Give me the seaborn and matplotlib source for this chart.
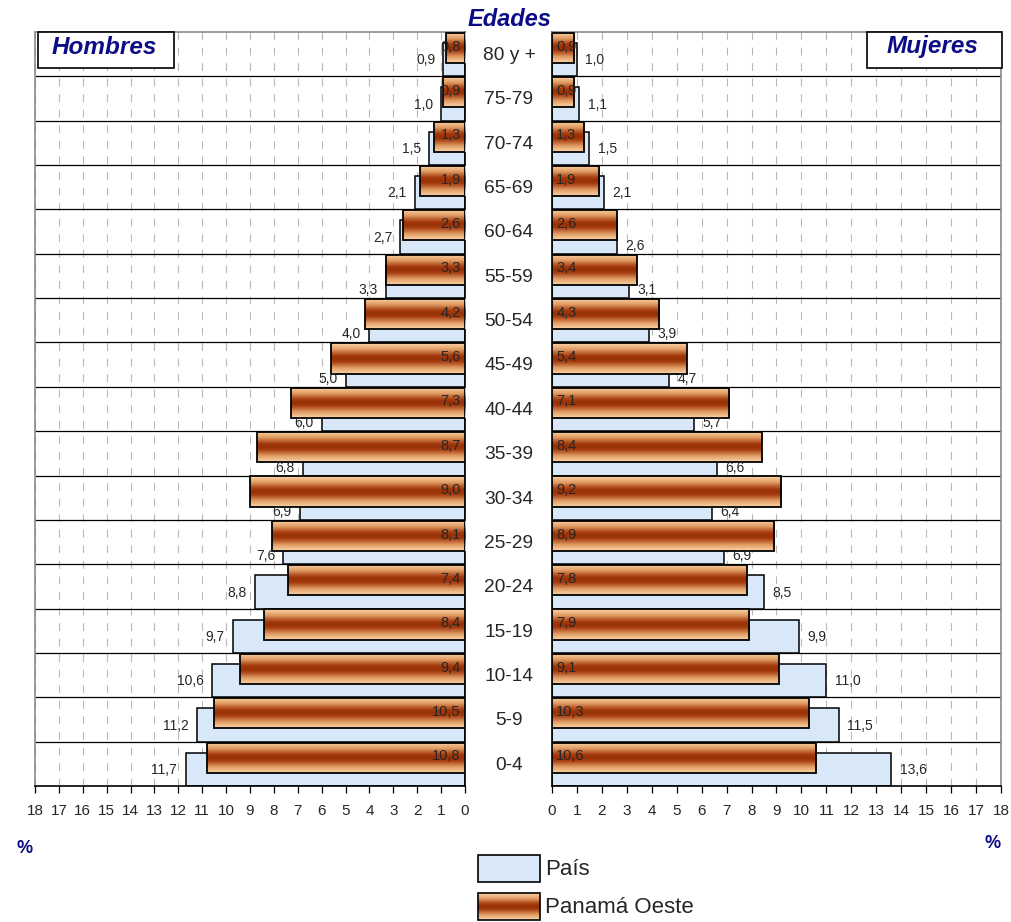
import numpy as np
import pandas as pd
import seaborn as sns
import matplotlib.pyplot as plt
from matplotlib.colors import LinearSegmentedColormap
from matplotlib.patches import Rectangle
import matplotlib.transforms as mtransforms

edades = ['0-4', '5-9', '10-14', '15-19', '20-24', '25-29', '30-34', '35-39',
          '40-44', '45-49', '50-54', '55-59', '60-64', '65-69', '70-74', '75-79', '80 y +']
hombres_pais = [11.7, 11.2, 10.6, 9.7, 8.8, 7.6, 6.9, 6.8, 6.0, 5.0, 4.0, 3.3, 2.7, 2.1, 1.5, 1.0, 0.9]
hombres_oeste = [10.8, 10.5, 9.4, 8.4, 7.4, 8.1, 9.0, 8.7, 7.3, 5.6, 4.2, 3.3, 2.6, 1.9, 1.3, 0.9, 0.8]
mujeres_pais = [13.6, 11.5, 11.0, 9.9, 8.5, 6.9, 6.4, 6.6, 5.7, 4.7, 3.9, 3.1, 2.6, 2.1, 1.5, 1.1, 1.0]
mujeres_oeste = [10.6, 10.3, 9.1, 7.9, 7.8, 8.9, 9.2, 8.4, 7.1, 5.4, 4.3, 3.4, 2.6, 1.9, 1.3, 0.9, 0.9]
series = ['País', 'Panamá Oeste']

sns.set_style('white')
plt.rcParams['font.family'] = ['Liberation Sans', 'DejaVu Sans']

W, H = 1012, 922
navy = '#0c0c86'
azul = '#d9e8f8'
cobre = LinearSegmentedColormap.from_list(
    'cobre', [(0, '#fcd4a8'), (0.2, '#e09a62'), (0.4, '#a53c0e'), (0.5, '#963006'),
              (0.6, '#a53c0e'), (0.8, '#e09a62'), (1, '#fcd4a8')])
grad = np.linspace(0, 1, 64).reshape(-1, 1)

orden = edades[::-1]
n = len(orden)


def fx(px):
    return px / W


def fy(py):
    return 1 - py / H


def fmt(v):
    return f'{v:.1f}'.replace('.', ',')


fig = plt.figure(figsize=(W / 100, H / 100), dpi=100)
axL = fig.add_axes([fx(35), fy(786), 430 / W, 754 / H])
axR = fig.add_axes([fx(552), fy(786), 449 / W, 754 / H])


def piramide(ax, pais, oeste, lado):
    df_p = pd.DataFrame({'edad': edades, 'valor': pais})
    df_o = pd.DataFrame({'edad': edades, 'valor': oeste})

    n0 = len(ax.patches)
    sns.barplot(data=df_p, x='valor', y='edad', order=orden, orient='h', ax=ax,
                color=azul, edgecolor='black', linewidth=1.1, errorbar=None,
                saturation=1, zorder=2)
    for p in ax.patches[n0:]:
        k = round(p.get_y() + p.get_height() / 2)
        p.set_y(k - 0.25)
        p.set_height(0.75)

    n1 = len(ax.patches)
    sns.barplot(data=df_o, x='valor', y='edad', order=orden, orient='h', ax=ax,
                color='none', edgecolor='black', linewidth=1.3, errorbar=None,
                saturation=1, zorder=4)
    for p in ax.patches[n1:]:
        k = round(p.get_y() + p.get_height() / 2)
        p.set_y(k - 0.48)
        p.set_height(0.68)
        p.set_facecolor('none')
        x0, w = p.get_x(), p.get_width()
        im = ax.imshow(grad, cmap=cobre, aspect='auto', interpolation='bilinear',
                       extent=[x0, x0 + w, p.get_y() + 0.68, p.get_y()], zorder=3.5)
        im.set_clip_path(p)

    sgn = -1 if lado == 'izq' else 1
    ha = 'right' if lado == 'izq' else 'left'
    for i, e in enumerate(edades):
        k = orden.index(e)
        dy = 0.14 if pais[i] > oeste[i] else 0.32
        ax.annotate(fmt(pais[i]), (pais[i], k + dy), xytext=(sgn * 6, 0),
                    textcoords='offset points', ha=ha, va='center', fontsize=10, zorder=6)
        ax.annotate(fmt(oeste[i]), (0, k - 0.17), xytext=(sgn * 3, 0),
                    textcoords='offset points', ha=ha, va='center', fontsize=10.5, zorder=6)

    ax.hlines([k + 0.5 for k in range(n - 1)], 0, 18, color='black', lw=0.9, zorder=1.5)
    ax.set_xticks(range(19))
    ax.set_xticklabels([str(t) for t in range(19)], fontsize=11)
    ax.grid(axis='x', color='#b8b8b8', linestyle=(0, (7, 7)), lw=0.8)
    ax.set_axisbelow(True)
    ax.tick_params(axis='x', direction='out', length=5, width=0.9, color='black',
                   bottom=True, pad=8)
    ax.tick_params(axis='y', left=False, labelleft=False)
    ax.set_xlabel('')
    ax.set_ylabel('')
    ax.set_ylim(n - 0.5, -0.5)
    if lado == 'izq':
        ax.set_xlim(18, 0)
    else:
        ax.set_xlim(0, 18)
    for s in ax.spines.values():
        s.set_color('#8a8a8a')
        s.set_linewidth(1.2)
    ax.spines['bottom'].set_color('black')
    ax.spines['right' if lado == 'izq' else 'left'].set_color('black')


piramide(axL, hombres_pais, hombres_oeste, 'izq')
piramide(axR, mujeres_pais, mujeres_oeste, 'der')

# etiquetas de edad en el centro
tr = mtransforms.blended_transform_factory(fig.transFigure, axL.transData)
for k, e in enumerate(orden):
    fig.text(fx(509), k + 0.03, e, transform=tr, ha='center', va='center', fontsize=13.8)

fig.text(fx(510), fy(19), 'Edades', ha='center', va='center', fontsize=17,
         fontweight='bold', fontstyle='italic', color=navy)

for (x0, x1, txt) in [(38, 174, 'Hombres'), (867, 1002, 'Mujeres')]:
    fig.add_artist(Rectangle((fx(x0), fy(68)), (x1 - x0) / W, 36 / H, transform=fig.transFigure,
                             facecolor='white', edgecolor='black', lw=1.2, zorder=5))
    fig.text(fx((x0 + x1) / 2 - 2), fy(47), txt, ha='center', va='center', fontsize=17.5,
             fontweight='bold', fontstyle='italic', color=navy, zorder=6)

fig.text(fx(25), fy(848), '%', ha='center', va='center', fontsize=13, fontweight='bold', color=navy)
fig.text(fx(993), fy(843), '%', ha='center', va='center', fontsize=13, fontweight='bold', color=navy)

# leyenda
lax = fig.add_axes([fx(470), 0, 300 / W, 74 / H])
lax.set_xlim(470, 770)
lax.set_ylim(922, 848)
lax.axis('off')
lax.add_patch(Rectangle((478, 855), 62, 27, facecolor=azul, edgecolor='black', lw=1.2))
r = Rectangle((478, 893), 62, 27, facecolor='none', edgecolor='black', lw=1.2, zorder=3)
lax.add_patch(r)
im = lax.imshow(grad, cmap=cobre, aspect='auto', extent=[478, 540, 920, 893], zorder=2)
im.set_clip_path(r)
lax.set_xlim(470, 770)
lax.set_ylim(922, 848)
lax.text(545, 869, series[0], ha='left', va='center', fontsize=16)
lax.text(545, 907, series[1], ha='left', va='center', fontsize=16)

fig.savefig('out.png', dpi=100)
